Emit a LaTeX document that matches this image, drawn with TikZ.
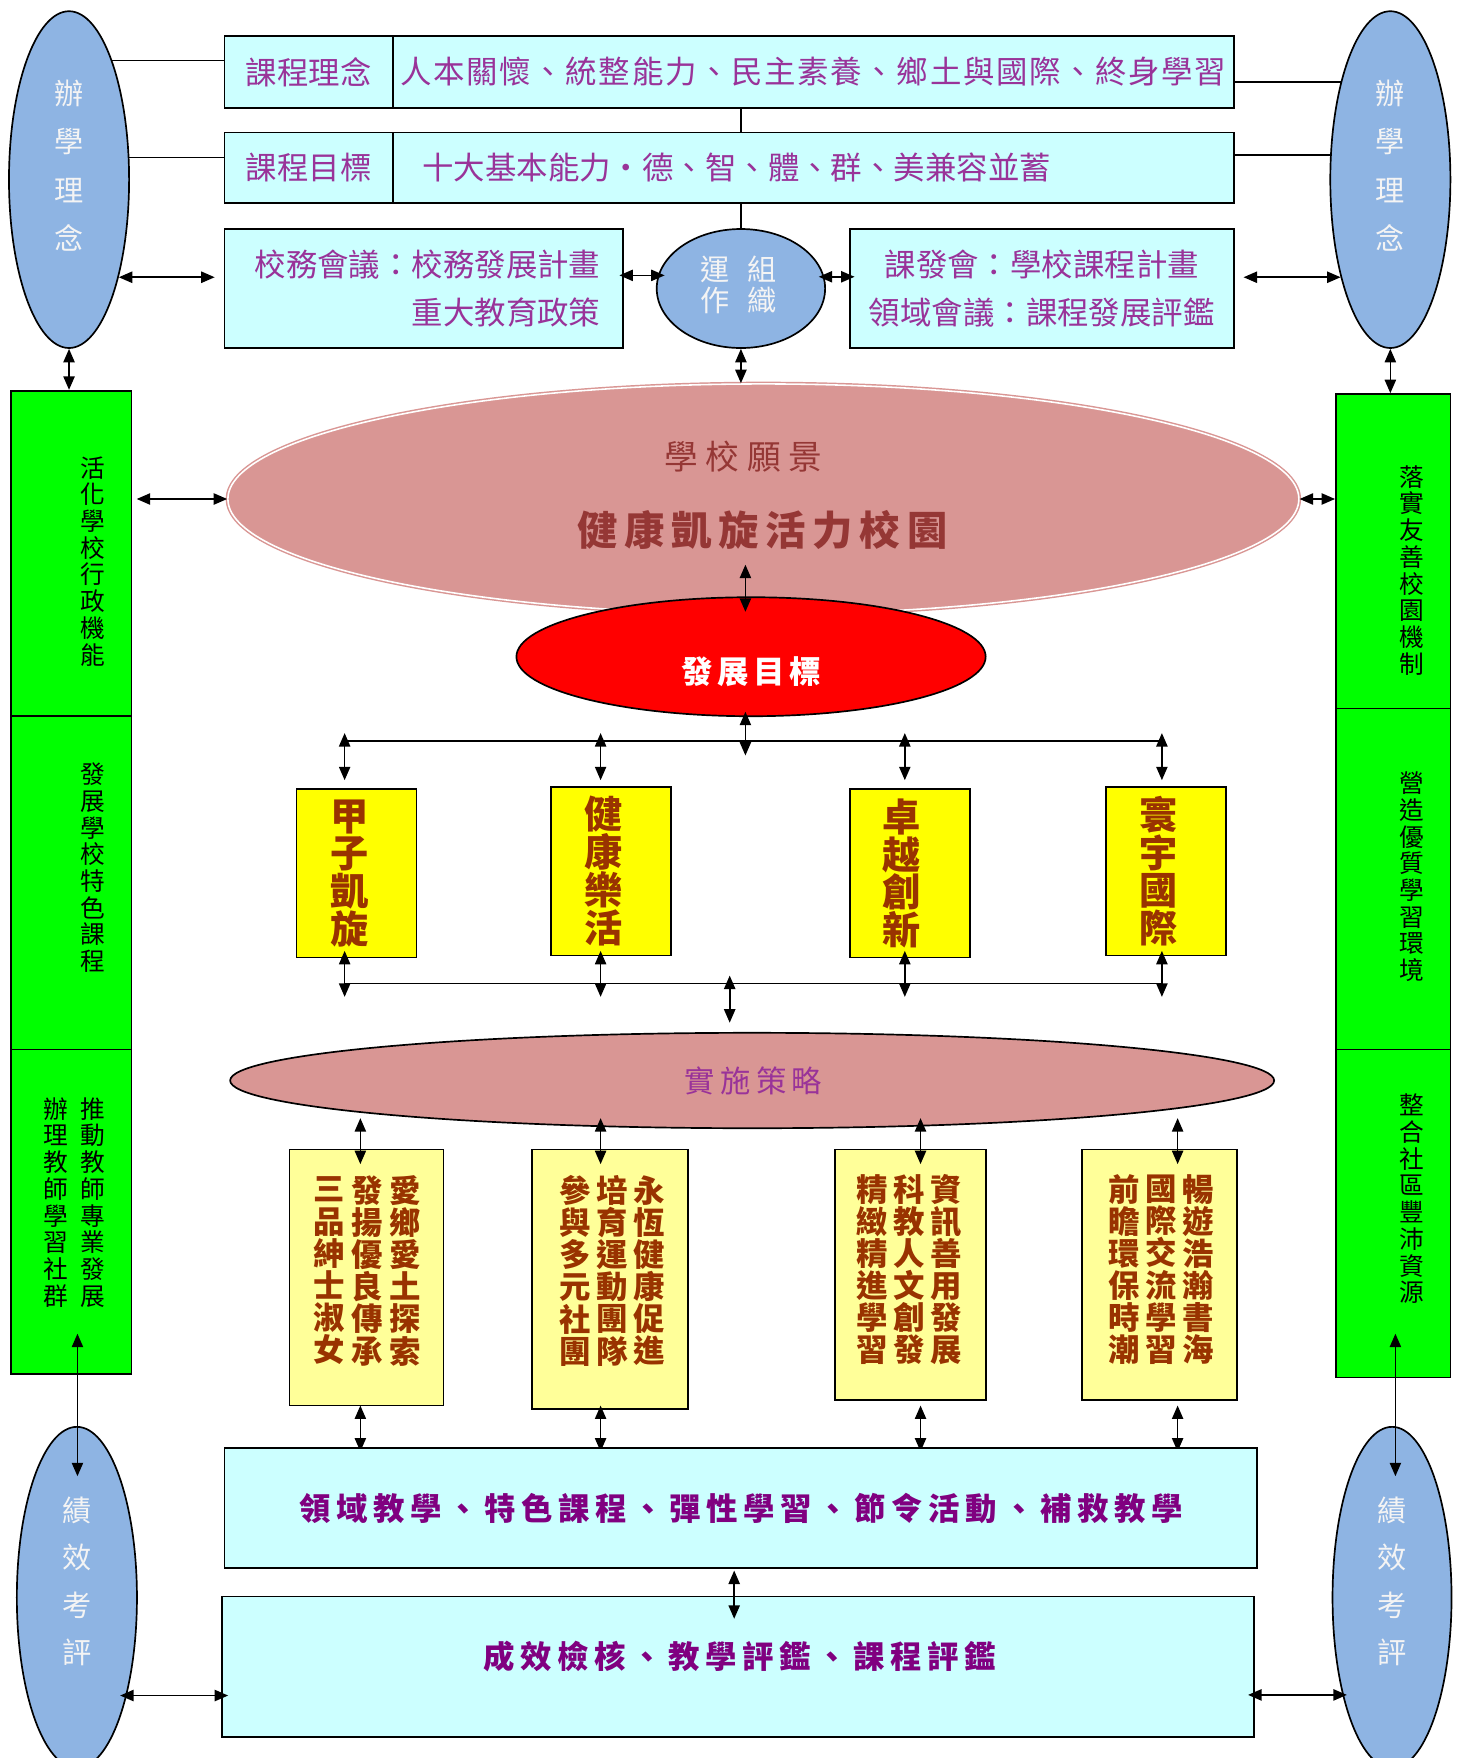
\documentclass[tikz,border=0pt]{standalone}
\usepackage{fontspec}
\setmainfont{Noto Sans CJK TC}
\usetikzlibrary{arrows.meta,shapes.geometric}
\definecolor{cyanbox}{HTML}{CCFFFF}
\definecolor{purpletxt}{HTML}{993399}
\definecolor{boldpurple}{HTML}{800080}
\definecolor{blueell}{HTML}{8EB4E3}
\definecolor{lighttxt}{HTML}{F4F4F4}
\definecolor{greenbox}{HTML}{00FF00}
\definecolor{yellowbox}{HTML}{FFFF00}
\definecolor{lightyellow}{HTML}{FFFF99}
\definecolor{browntxt}{HTML}{993300}
\definecolor{pinkell}{HTML}{D99694}
\definecolor{visiontxt}{HTML}{953735}
\makeatletter
\newcommand\spaced[2]{\def\spx@g{\hskip#1\relax}\spx@a#2\relax\unskip}
\def\spx@a#1{\ifx\relax#1\else#1\spx@g\expandafter\spx@a\fi}
\makeatother
\begin{document}
\begin{tikzpicture}[x=1pt,y=-1pt,
  box/.style={draw=black,line width=1.5pt,fill=cyanbox,inner sep=0pt},
  oval/.style={ellipse,draw=black,line width=1.5pt,inner sep=0pt},
  gbox/.style={draw=black,line width=1.5pt,fill=greenbox,inner sep=0pt,minimum width=#1},
  ybox/.style={draw=black,line width=1.5pt,fill=yellowbox,inner sep=0pt,minimum width=107,minimum height=150},
  lybox/.style={draw=black,line width=1.5pt,fill=lightyellow,inner sep=0pt},
  arr/.style={{Triangle[length=12pt,width=10pt]}-{Triangle[length=12pt,width=10pt]},line width=1.5pt},
  ln/.style={line width=1.5pt},
  purp/.style={text=purpletxt,font=\fontsize{28}{30}\selectfont},
  bpurp/.style={text=boldpurple,font=\fontsize{28}{30}\selectfont\bfseries},
  ovtxt/.style={text=lighttxt,align=center,font=\fontsize{26}{43}\selectfont,inner sep=0pt},
  gtxt/.style={text=black,align=center,font=\fontsize{22}{23.8}\selectfont,inner sep=0pt},
  ytxt/.style={text=browntxt,align=center,font=\fontsize{34}{33.7}\selectfont\bfseries,inner sep=0pt},
  lytxt/.style={text=browntxt,align=center,font=\fontsize{28}{28.6}\selectfont\bfseries,inner sep=0pt}
]
\useasboundingbox (0,0) rectangle (1300,1566);

% side ellipses
\node[oval,fill=blueell,minimum width=107,minimum height=300] (lphil) at (61.5,160) {};
\node[ovtxt] (lphilt) at (61.5,147.5) {辦\\學\\理\\念};
\node[oval,fill=blueell,minimum width=107,minimum height=300] (rphil) at (1238.5,160) {};
\node[ovtxt] (rphilt) at (1238.5,147.5) {辦\\學\\理\\念};

% row 1 and 2
\node[box,minimum width=150,minimum height=64,purp] (k1) at (275,64) {課程理念};
\node[box,minimum width=749,minimum height=64,purp] (k1c) at (724.5,64) {\spaced{1.5pt}{人本關懷、統整能力、民主素養、鄉土與國際、終身學習}};
\node[box,minimum width=150,minimum height=63,purp] (k2) at (275,149.5) {課程目標};
\node[box,minimum width=749,minimum height=63] (k2c) at (724.5,149.5) {};
\node[purp,anchor=west,inner sep=0pt] (k2t) at (376,149.5) {十大基本能力‧德、智、體、群、美兼容並蓄};

% row 3
\node[box,minimum width=355,minimum height=106] (lbox) at (377.5,257) {};
\node[purp,align=right,anchor=east,inner sep=0pt,font=\fontsize{28}{42}\selectfont] (lboxt) at (535,257) {校務會議：校務發展計畫\\重大教育政策};
\node[box,minimum width=342,minimum height=106,purp,align=center,font=\fontsize{28}{42}\selectfont] (rbox) at (928,257) {課發會：學校課程計畫\\領域會議：課程發展評鑑};
\node[oval,fill=blueell,minimum width=150,minimum height=106] (org) at (660,257) {};
\node[ovtxt,font=\fontsize{26}{28}\selectfont] (orgt1) at (658,240) {運\hspace{16pt}組};
\node[ovtxt,font=\fontsize{26}{28}\selectfont] (orgt2) at (658,268) {作\hspace{16pt}織};

% connector lines at the top
\draw[ln] (lphil.70.7) -- (k1.west |- lphil.70.7);
\draw[ln] (lphil.20.7) -- (k2.west |- lphil.20.7);
\draw[ln] (k1c.east |- rphil.117) -- (rphil.117);
\draw[ln] (k2c.east |- rphil.158.4) -- (rphil.158.4);
\draw[ln] (k1c.south -| org.north) -- (k2c.north -| org.north);
\draw[ln] (k2c.south -| org.north) -- (org.north);

% row 3 arrows
\draw[arr,shorten >=8pt] (lphil.-63) -- (lbox.west |- lphil.-63);
\draw[arr,shorten <=-4pt,shorten >=-6pt] (lbox.east |- org.171.5) -- (org.171.5);
\draw[arr,shorten <=-5pt,shorten >=-5pt] (org.8.5) -- (rbox.west |- org.8.5);
\draw[arr,shorten <=8pt] (rbox.east |- rphil.243) -- (rphil.243);

% green columns
\node[gbox=107,minimum height=290] (lg1) at (63.5,493) {};
\node[gbox=107,minimum height=297] (lg2) at (63.5,786.5) {};
\node[gbox=107,minimum height=289] (lg3) at (63.5,1079.5) {};
\node[gbox=102,minimum height=280] (rg1) at (1241,491) {};
\node[gbox=102,minimum height=304] (rg2) at (1241,783) {};
\node[gbox=102,minimum height=292] (rg3) at (1241,1081) {};
\node[gtxt] (lg1t) at (83,500) {活\\化\\學\\校\\行\\政\\機\\能};
\node[gtxt] (lg2t) at (83,773) {發\\展\\學\\校\\特\\色\\課\\程};
\node[gtxt] (lg3t) at (83,1071) {推\\動\\教\\師\\專\\業\\發\\展};
\node[gtxt] (lg3u) at (50,1071) {辦\\理\\教\\師\\學\\習\\社\\群};
\node[gtxt] (rg1t) at (1258,508) {落\\實\\友\\善\\校\\園\\機\\制};
\node[gtxt] (rg2t) at (1258,781) {營\\造\\優\\質\\學\\習\\環\\境};
\node[gtxt] (rg3t) at (1258,1068) {整\\合\\社\\區\\豐\\沛\\資\\源};
\draw[arr] (lphil.south) -- (lphil.south |- lg1.north);
\draw[arr] (rphil.south) -- (rphil.south |- rg1.north);

% vision ellipse
\node[ellipse,inner sep=0pt,fill=pinkell,draw=pinkell,line width=1.3pt,double=white,double distance=1.4pt,minimum width=954,minimum height=205] (vision) at (680,444.5) {};
\node[text=visiontxt,font=\fontsize{30}{32}\selectfont,inner sep=0pt] (visiont1) at (662,407) {\spaced{7pt}{學校願景}};
\node[text=visiontxt,font=\fontsize{36}{38}\selectfont\bfseries,inner sep=0pt] (visiont2) at (679,472) {\spaced{6pt}{健康凱旋活力校園}};
\draw[arr] (org.south) -- (org.south |- vision.north);
\draw[arr,shorten <=4pt] (lg1.east |- vision.west) -- (vision.west);
\draw[arr] (vision.east) -- (rg1.west |- vision.east);

% development goal
\node[oval,fill=red,minimum width=418,minimum height=106] (dev) at (669,585) {};
\node[text=white,font=\fontsize{28}{30}\selectfont\bfseries,inner sep=0pt] (devt) at (669,598) {\spaced{4pt}{發展目標}};
\coordinate (va) at (664,503);
\coordinate (vb) at (664,545);
\draw[arr] (va) -- (vb);

% branch to goals
\coordinate (bl) at (307,660);
\coordinate (br) at (1035,660);
\draw[ln] (bl) -- (br);
\coordinate (da) at (664,634);
\coordinate (db) at (664,673);
\draw[arr] (da) -- (db);
\node[ybox] (y1) at (317.5,778) {};
\node[ybox] (y2) at (544.5,776) {};
\node[ybox] (y3) at (810.5,778) {};
\node[ybox] (y4) at (1038.5,776) {};
\node[ytxt] (y1t) at (311,778) {甲\\子\\凱\\旋};
\node[ytxt] (y2t) at (538,776) {健\\康\\樂\\活};
\node[ytxt] (y3t) at (803,778) {卓\\越\\創\\新};
\node[ytxt] (y4t) at (1032,776) {寰\\宇\\國\\際};
\foreach \xx/\nn in {307/y1,535/y2,806/y3,1035/y4}{
  \draw[arr] (\xx,653) -- (\xx,695);
  \draw[arr] (\xx,847) -- (\xx,888);
}
\coordinate (cl) at (307,876);
\coordinate (cr) at (1035,876);
\draw[ln] (cl) -- (cr);

% strategy ellipse
\node[oval,fill=pinkell,minimum width=930,minimum height=85] (strat) at (670,962.5) {};
\node[text=purpletxt,font=\fontsize{27}{29}\selectfont,inner sep=0pt] (stratt) at (671,963) {\spaced{5pt}{實施策略}};
\coordinate (sa) at (650,869);
\coordinate (sb) at (650,911);
\draw[arr] (sa) -- (sb);

% strategy boxes
\node[lybox,minimum width=137,minimum height=228] (s1) at (326.5,1138) {};
\node[lybox,minimum width=139,minimum height=231] (s2) at (543.5,1139.5) {};
\node[lybox,minimum width=134,minimum height=223] (s3) at (811,1135.5) {};
\node[lybox,minimum width=138,minimum height=223] (s4) at (1033,1135.5) {};
\node[lytxt] (s1a) at (361,1132) {愛\\鄉\\愛\\土\\探\\索};
\node[lytxt] (s1b) at (327,1132) {發\\揚\\優\\良\\傳\\承};
\node[lytxt] (s1c) at (293,1132) {三\\品\\紳\\士\\淑\\女};
\node[lytxt] (s2a) at (578,1132) {永\\恆\\健\\康\\促\\進};
\node[lytxt] (s2b) at (545,1132) {培\\育\\運\\動\\團\\隊};
\node[lytxt] (s2c) at (512,1132) {參\\與\\多\\元\\社\\團};
\node[lytxt] (s3a) at (843,1131) {資\\訊\\善\\用\\發\\展};
\node[lytxt] (s3b) at (810,1131) {科\\教\\人\\文\\創\\發};
\node[lytxt] (s3c) at (777,1131) {精\\緻\\精\\進\\學\\習};
\node[lytxt] (s4a) at (1067,1131) {暢\\遊\\浩\\瀚\\書\\海};
\node[lytxt] (s4b) at (1034,1131) {國\\際\\交\\流\\學\\習};
\node[lytxt] (s4c) at (1001,1131) {前\\瞻\\環\\保\\時\\潮};
\foreach \xx in {321,535,820,1049}{
  \draw[arr] (\xx,996) -- (\xx,1037);
  \draw[arr] (\xx,1252) -- (\xx,1293);
}

% bottom boxes
\node[box,minimum width=920,minimum height=107,bpurp] (b1) at (660,1343.5) {\spaced{5pt}{領域教學、特色課程、彈性學習、節令活動、補救教學}};
\node[box,minimum width=919,minimum height=125] (b2) at (657.5,1484.5) {};
\node[bpurp,inner sep=0pt] (b2t) at (659,1476) {\spaced{5pt}{成效檢核、教學評鑑、課程評鑑}};
\coordinate (ba) at (654,1399);
\coordinate (bb) at (654,1442);
\draw[arr] (ba) -- (bb);

% performance ellipses
\node[oval,fill=blueell,minimum width=107,minimum height=304] (lperf) at (68.5,1423) {};
\node[ovtxt,font=\fontsize{26}{42.3}\selectfont] (lperft) at (68.5,1408.5) {績\\效\\考\\評};
\node[oval,fill=blueell,minimum width=106,minimum height=304] (rperf) at (1240,1423) {};
\node[ovtxt,font=\fontsize{26}{42.3}\selectfont] (rperft) at (1240,1408.5) {績\\效\\考\\評};
\coordinate (lpa) at (69,1188);
\coordinate (lpb) at (69,1315);
\draw[arr] (lpa) -- (lpb);
\coordinate (rpa) at (1243,1188);
\coordinate (rpb) at (1243,1315);
\draw[arr] (rpa) -- (rpb);
\draw[arr,shorten <=-6pt,shorten >=-6pt] (lperf.-63.6) -- (b2.west |- lperf.-63.6);
\draw[arr,shorten <=-6pt,shorten >=-4pt] (b2.east |- rperf.243.6) -- (rperf.243.6);
\end{tikzpicture}
\end{document}
